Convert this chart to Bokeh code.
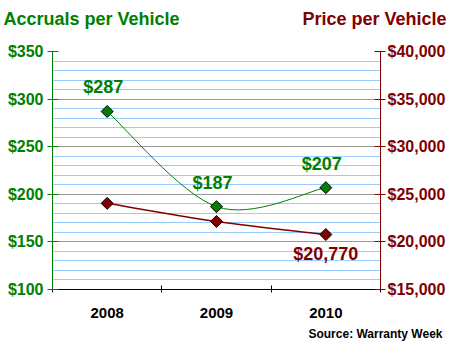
import numpy as np
from bokeh.plotting import figure
from bokeh.layouts import column
from bokeh.models import (Range1d, LinearAxis, SingleIntervalTicker, FixedTicker,
                          NumeralTickFormatter, Label)
from bokeh.embed import file_html
from bokeh.resources import INLINE

# ---- data ----
years = ["2008", "2009", "2010"]
accruals = [287, 187, 207]
price = [24050, 22150, 20770]
acc_labels = ["$287", "$187", "$207"]
price_labels = ["", "", "$20,770"]
left_title = "Accruals per Vehicle"
right_title = "Price per Vehicle"
source_text = "Source: Warranty Week"

GREEN = "#008000"
RED = "#800000"
FONT = "Liberation Sans"
W = 448

xs = list(range(len(years)))


def bezier_parts(px, py):
    """Catmull-Rom style smoothing (like spreadsheet smoothed lines)."""
    n = len(px)
    out = dict(x0=[], y0=[], x1=[], y1=[], cx0=[], cy0=[], cx1=[], cy1=[])
    for i in range(n - 1):
        pm = max(i - 1, 0)
        pp = min(i + 2, n - 1)
        out["x0"].append(px[i]); out["y0"].append(py[i])
        out["x1"].append(px[i + 1]); out["y1"].append(py[i + 1])
        out["cx0"].append(px[i] + (px[i + 1] - px[pm]) / 6.0)
        out["cy0"].append(py[i] + (py[i + 1] - py[pm]) / 6.0)
        out["cx1"].append(px[i + 1] - (px[pp] - px[i]) / 6.0)
        out["cy1"].append(py[i + 1] - (py[pp] - py[i]) / 6.0)
    return out


def blank_fig(h):
    f = figure(width=W, height=h, output_backend="svg", toolbar_location=None,
               x_range=Range1d(0, W), y_range=Range1d(0, h),
               x_axis_location=None, y_axis_location=None,
               min_border=0, min_border_left=0, min_border_right=0,
               min_border_top=0, min_border_bottom=0)
    f.grid.visible = False
    f.outline_line_color = None
    f.background_fill_color = "white"
    f.border_fill_color = "white"
    f.frame_align = False
    return f


# ---- header with the two titles ----
HH = 30
head = blank_fig(HH)
head.add_layout(Label(x=3, y=HH - 18, text=left_title, text_align="left",
                      text_baseline="alphabetic", text_color=GREEN, text_font=FONT,
                      text_font_style="bold", text_font_size="18px"))
head.add_layout(Label(x=W - 2, y=HH - 18, text=right_title, text_align="right",
                      text_baseline="alphabetic", text_color=RED, text_font=FONT,
                      text_font_style="bold", text_font_size="18px"))

# ---- main chart ----
fig = figure(width=W, height=292, output_backend="svg", toolbar_location=None,
             x_range=Range1d(-0.5, 2.5), y_range=Range1d(100, 350),
             min_border_left=52, min_border_right=66, min_border_top=21,
             min_border_bottom=33)
fig.frame_align = False
fig.extra_y_ranges = {"price": Range1d(15000, 40000)}
fig.outline_line_color = None
fig.background_fill_color = "white"
fig.border_fill_color = "white"
fig.xgrid.visible = False

lt = SingleIntervalTicker(interval=50, num_minor_ticks=5)
la = fig.yaxis[0]
la.ticker = lt
la.formatter = NumeralTickFormatter(format="$0")
la.axis_line_color = GREEN
la.major_tick_line_color = GREEN
la.major_tick_in = 6
la.major_tick_out = 5
la.minor_tick_line_color = None
la.major_label_text_color = GREEN
la.major_label_text_font = FONT
la.major_label_text_font_style = "bold"
la.major_label_text_font_size = "16px"
la.major_label_standoff = 4

fig.ygrid.ticker = lt
fig.ygrid.grid_line_color = "#999999"
fig.ygrid.minor_grid_line_color = "#99CCFF"

ba = fig.xaxis[0]
ba.ticker = FixedTicker(ticks=xs, minor_ticks=[-0.5, 0.5, 1.5, 2.5])
ba.major_label_overrides = {i: y for i, y in enumerate(years)}
ba.axis_line_color = "black"
ba.major_tick_line_color = None
ba.minor_tick_line_color = "black"
ba.minor_tick_in = 4
ba.minor_tick_out = 3
ba.major_label_text_color = "black"
ba.major_label_text_font = FONT
ba.major_label_text_font_style = "bold"
ba.major_label_text_font_size = "15px"
ba.major_label_standoff = 12

ra = LinearAxis(y_range_name="price",
                ticker=SingleIntervalTicker(interval=5000, num_minor_ticks=0),
                formatter=NumeralTickFormatter(format="$0,0"))
ra.axis_line_color = RED
ra.major_tick_line_color = RED
ra.major_tick_in = 6
ra.major_tick_out = 5
ra.minor_tick_line_color = None
ra.major_label_text_color = RED
ra.major_label_text_font = FONT
ra.major_label_text_font_style = "bold"
ra.major_label_text_font_size = "16px"
ra.major_label_standoff = 2
fig.add_layout(ra, "right")

g = bezier_parts(xs, accruals)
fig.bezier(**g, line_color=GREEN, line_width=1)
r = bezier_parts(xs, price)
fig.bezier(**r, line_color=RED, line_width=1.5, y_range_name="price")

fig.scatter(xs, price, marker="square", angle=np.pi / 4, size=8.5,
            fill_color=RED, line_color="black", line_width=1, y_range_name="price")
fig.scatter(xs, accruals, marker="square", angle=np.pi / 4, size=8.5,
            fill_color=GREEN, line_color="black", line_width=1)

for xi, yi, t in zip(xs, accruals, acc_labels):
    fig.add_layout(Label(x=xi, y=yi, text=t, x_offset=-4, y_offset=24,
                         text_align="center", text_baseline="middle",
                         text_color=GREEN, text_font=FONT, text_font_style="bold",
                         text_font_size="18px"))
for xi, yi, t in zip(xs, price, price_labels):
    if t:
        fig.add_layout(Label(x=xi, y=yi, text=t, x_offset=0, y_offset=-19,
                             y_range_name="price",
                             text_align="center", text_baseline="middle",
                             text_color=RED, text_font=FONT, text_font_style="bold",
                             text_font_size="18px"))

# ---- footer with the source ----
FH = 344 - HH - 292
foot = blank_fig(FH)
foot.add_layout(Label(x=W - 6, y=FH / 2, text=source_text, text_align="right",
                      text_baseline="middle", text_color="black", text_font=FONT,
                      text_font_style="bold", text_font_size="12px"))

p = column(head, fig, foot, spacing=0)

open("out.html", "w").write(file_html(p, INLINE))
